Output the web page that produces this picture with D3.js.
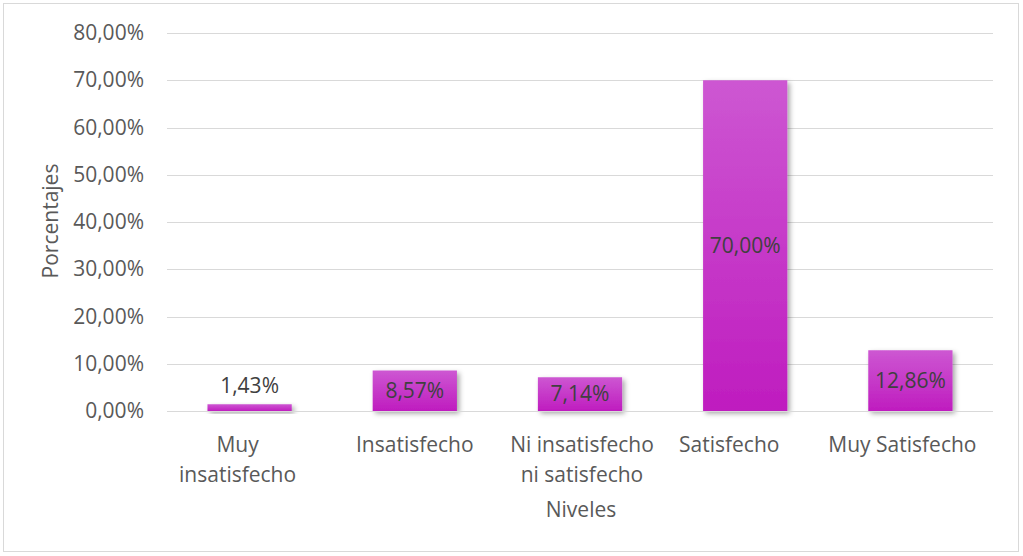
<!DOCTYPE html>
<html><head><meta charset="utf-8">
<script src="https://cdn.jsdelivr.net/npm/d3@7"></script>
<style>body{margin:0;background:#fff;} text{font-family:"Open Sans",sans-serif;}</style>
</head><body><svg id="c" width="1023" height="556"></svg>
<script>
const categories = [["Muy","insatisfecho"],["Insatisfecho"],["Ni insatisfecho","ni satisfecho"],["Satisfecho"],["Muy Satisfecho"]];
const values = [1.43, 8.57, 7.14, 70.00, 12.86];
const labels = ["1,43%","8,57%","7,14%","70,00%","12,86%"];
const yTicks = [0,10,20,30,40,50,60,70,80];
const yTickLabels = ["0,00%","10,00%","20,00%","30,00%","40,00%","50,00%","60,00%","70,00%","80,00%"];
// small horizontal nudges of category labels (layout only)
const catLabelShift = [-12, 0, 2, -16, -8];

const FS = 21;
const svg = d3.select("#c");
svg.append("rect").attr("x",3.5).attr("y",3.5).attr("width",1015).attr("height",548)
  .attr("fill","#fff").attr("stroke","#d9d9d9").attr("stroke-width",1);

const defs = svg.append("defs");
const g1 = defs.append("linearGradient").attr("id","bg").attr("x1",0).attr("y1",0).attr("x2",0).attr("y2",1);
g1.append("stop").attr("offset","0%").attr("stop-color","#cd57d2");
g1.append("stop").attr("offset","100%").attr("stop-color","#bf1cbf");
const f = defs.append("filter").attr("id","sh").attr("x","-20%").attr("y","-20%").attr("width","150%").attr("height","150%");
f.append("feDropShadow").attr("dx",2.5).attr("dy",2.5).attr("stdDeviation",2.5).attr("flood-color","#000").attr("flood-opacity",0.35);

const x = d3.scaleBand().domain(d3.range(values.length)).range([167,993]).paddingInner(0.49).paddingOuter(0.245);
const y = d3.scaleLinear().domain([0,80]).range([411,33]);

// gridlines
svg.append("g").selectAll("line").data(yTicks).join("line")
  .attr("x1",167).attr("x2",993).attr("y1",d=>Math.round(y(d))+0.5).attr("y2",d=>Math.round(y(d))+0.5)
  .attr("stroke","#d9d9d9").attr("stroke-width",1.2);

// y axis labels
const yAxis = d3.axisLeft(y).tickValues(yTicks).tickFormat((d,i)=>yTickLabels[i]).tickSize(0).tickPadding(0);
const ya = svg.append("g").attr("transform","translate(144,0)").call(yAxis);
ya.select(".domain").remove();
ya.selectAll("text").attr("font-size",FS).attr("fill","#595959").attr("font-family","Open Sans");

// bars
svg.append("g").selectAll("rect").data(values).join("rect")
  .attr("x",(d,i)=>x(i)).attr("width",x.bandwidth())
  .attr("y",d=>y(d)).attr("height",d=>y(0)-y(d))
  .attr("fill","url(#bg)").attr("filter","url(#sh)");

// data labels
svg.append("g").selectAll("text").data(values).join("text")
  .attr("x",(d,i)=>x(i)+x.bandwidth()/2)
  .attr("y",d=>{const h=y(0)-y(d); return h<25 ? y(d)-19 : (y(d)+y(0))/2;})
  .attr("dy","0.35em").attr("text-anchor","middle")
  .attr("font-size",FS).attr("fill","#404040")
  .text((d,i)=>labels[i]);

// x category labels
const xa = svg.append("g");
categories.forEach((lines,i)=>{
  const t = xa.append("text").attr("text-anchor","middle").attr("font-size",FS).attr("fill","#595959");
  lines.forEach((ln,j)=>t.append("tspan").attr("x",x(i)+x.bandwidth()/2+catLabelShift[i]).attr("y",452+j*30).text(ln));
});

// axis line
svg.append("line").attr("x1",167).attr("x2",993).attr("y1",411.5).attr("y2",411.5).attr("stroke","#d9d9d9").attr("stroke-width",1.2);

svg.append("text").attr("x",581).attr("y",517).attr("text-anchor","middle").attr("font-size",FS).attr("fill","#595959").text("Niveles");
svg.append("text").attr("transform","translate(58,221) rotate(-90)").attr("text-anchor","middle").attr("font-size",FS).attr("fill","#595959").text("Porcentajes");
</script></body></html>
